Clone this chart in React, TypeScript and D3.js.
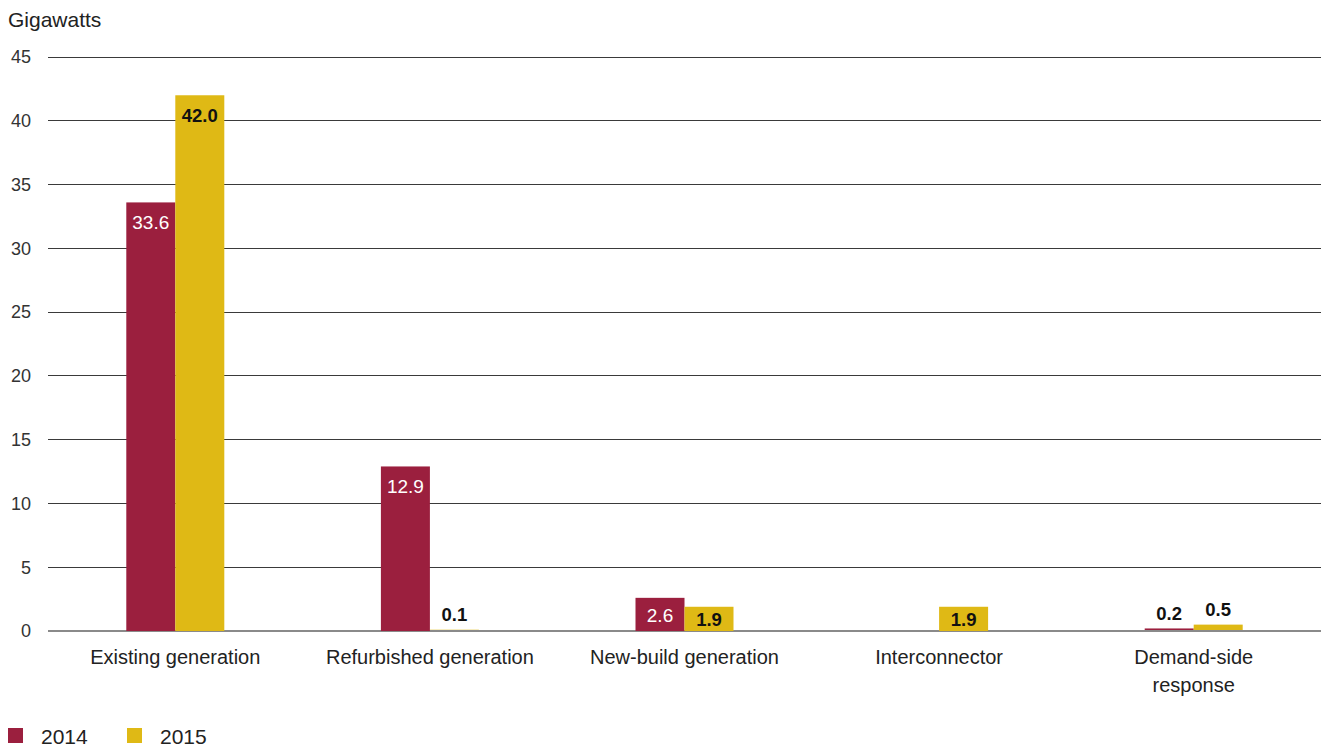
import React, { useEffect, useRef } from "react";
import * as d3 from "d3";

const categories = [
  ["Existing generation"],
  ["Refurbished generation"],
  ["New-build generation"],
  ["Interconnector"],
  ["Demand-side", "response"],
];
const series = ["2014", "2015"];
const values2014 = [33.6, 12.9, 2.6, 0, 0.2];
const values2015 = [42.0, 0.1, 1.9, 1.9, 0.5];
const labels2014 = ["33.6", "12.9", "2.6", "", "0.2"];
const labels2015 = ["42.0", "0.1", "1.9", "1.9", "0.5"];
const yTicks = [0, 5, 10, 15, 20, 25, 30, 35, 40, 45];
const colors = ["#9b1f3e", "#dfb915"];
const labelColors = ["#ffffff", "#111111"];

const W = 1321;
const H = 749;
const FONT = "'Liberation Sans', Arial, Helvetica, sans-serif";

export default function App() {
  const ref = useRef<SVGSVGElement>(null);
  useEffect(() => {
    document.body.style.margin = "0";
    const svg = d3.select(ref.current);
    svg.selectAll("*").remove();
    const left = 48, right = 1321, top = 57, bottom = 631;
    const y = d3.scaleLinear().domain([0, 45]).range([bottom, top]);
    const x = d3.scaleBand<number>().domain(d3.range(categories.length)).range([left, right]);
    const barW = 49;

    // title
    svg.append("text").attr("x", 8).attr("y", 20).attr("dy", "0.35em").text("Gigawatts")
      .attr("font-family", FONT).attr("font-size", 21).attr("fill", "#222");

    // grid
    yTicks.forEach((t) => {
      svg.append("line").attr("x1", left).attr("x2", right)
        .attr("y1", y(t)).attr("y2", y(t))
        .attr("stroke", t === 0 ? "#8a8a8a" : "#3a3a3a")
        .attr("stroke-width", t === 0 ? 2 : 1)
        .attr("shape-rendering", "crispEdges");
      svg.append("text").attr("x", 31).attr("y", y(t)).attr("dy", "0.35em")
        .attr("text-anchor", "end").text(String(t))
        .attr("font-family", FONT).attr("font-size", 18).attr("fill", "#333");
    });

    const all = [values2014, values2015];
    const labs = [labels2014, labels2015];
    all.forEach((vals, s) => {
      vals.forEach((v, i) => {
        const cx = x(i)! + x.bandwidth() / 2;
        const bx = s === 0 ? cx - barW : cx;
        if (v > 0) {
          svg.append("rect").attr("x", bx).attr("y", y(v)).attr("width", barW)
            .attr("height", y(0) - y(v) - (v < 1 ? 1 : 0)).attr("fill", colors[s]);
        }
        const lab = labs[s][i];
        if (!lab) return;
        let ly: number;
        let fill: string;
        if (v < 1) {
          ly = y(v) - 15;
          fill = "#111";
        } else {
          ly = Math.min(y(v) + 20, (y(v) + y(0)) / 2 + 1);
          fill = labelColors[s];
        }
        const bold = s === 1 || v < 1;
        svg.append("text").attr("x", bx + barW / 2).attr("y", ly).attr("dy", "0.35em")
          .attr("text-anchor", "middle").text(lab)
          .attr("font-family", FONT).attr("font-size", bold ? 18.5 : 19)
          .attr("font-weight", bold ? "bold" : "normal")
          .attr("fill", fill);
      });
    });

    // category labels
    categories.forEach((lines, i) => {
      const cx = x(i)! + x.bandwidth() / 2;
      lines.forEach((ln, k) => {
        svg.append("text").attr("x", cx).attr("y", 657 + k * 28).attr("dy", "0.35em")
          .attr("text-anchor", "middle").text(ln)
          .attr("font-family", FONT).attr("font-size", 20).attr("fill", "#222");
      });
    });

    // legend
    const legX = [8, 127];
    series.forEach((s, i) => {
      svg.append("rect").attr("x", legX[i]).attr("y", 728).attr("width", 15).attr("height", 15)
        .attr("fill", colors[i]);
      svg.append("text").attr("x", legX[i] + 33).attr("y", 737).attr("dy", "0.35em")
        .text(s).attr("font-family", FONT).attr("font-size", 21).attr("fill", "#222");
    });
  }, []);
  return (
    <div style={{ position: "absolute", left: 0, top: 0 }}>
      <svg ref={ref} width={W} height={H} style={{ display: "block", background: "#fff" }} />
    </div>
  );
}
